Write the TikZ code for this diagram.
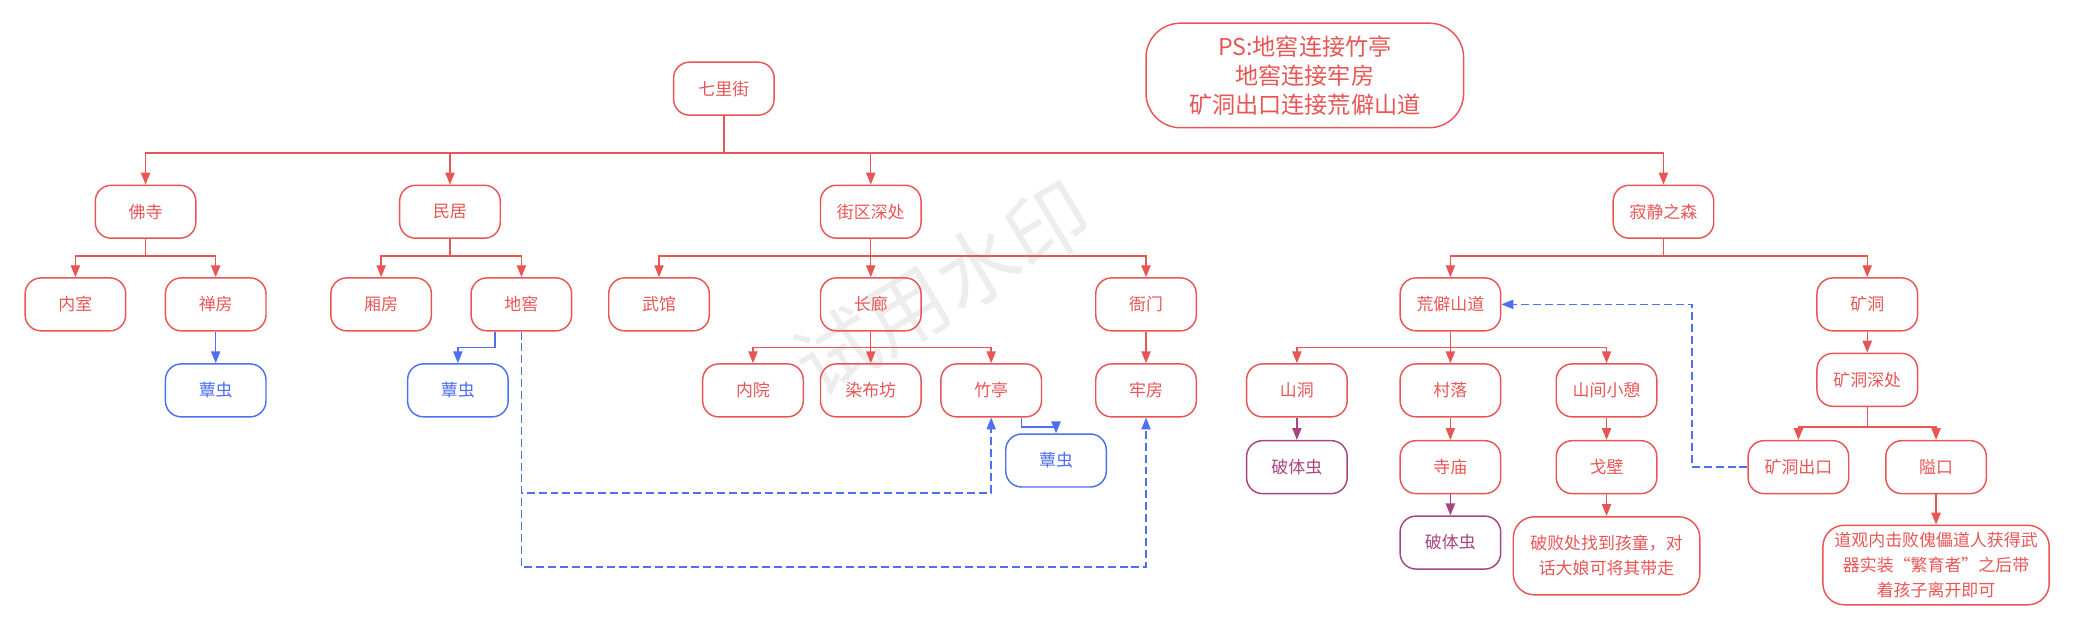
\documentclass[tikz,border=0pt]{standalone}
\usepackage{fontspec}
\setmainfont{Noto Sans CJK SC}
\usetikzlibrary{arrows.meta}
\definecolor{mapred}{HTML}{E85555}
\definecolor{mapblue}{HTML}{4D6FF0}
\definecolor{mappurple}{HTML}{A8447E}

\begin{document}
\begin{tikzpicture}[x=1pt, y=-1pt,
    place/.style={draw=mapred, text=mapred, rounded corners=12pt, line width=1.1pt,
                  minimum width=76pt, minimum height=40pt, inner sep=4pt, align=center,
                  font=\fontsize{12.8}{19}\selectfont},
    bug/.style={place, draw=mapblue, text=mapblue},
    worm/.style={place, draw=mappurple, text=mappurple},
    arr/.style={-{Triangle[width=7pt,length=9pt]}, line width=1.1pt, draw=mapred},
    barr/.style={arr, draw=mapblue},
    parr/.style={arr, draw=mappurple},
    link/.style={barr, dashed, dash pattern=on 6pt off 3pt}
]
\useasboundingbox (0,0) rectangle (1568,477);

% watermark
\node[rotate=31, text=black!7, font=\fontsize{62}{62}\selectfont] (wm) at (712,218) {试用水印};

% top
\node[place] (qilijie) at (547,67) {七里街};
\node[place, rounded corners=26pt, minimum width=240pt, minimum height=79pt,
      font=\fontsize{17.5}{22}\selectfont] (ps) at (986,57)
      {PS:地窖连接竹亭\\地窖连接牢房\\矿洞出口连接荒僻山道};

% level 1
\node[place] (fosi) at (110,160) {佛寺};
\node[place] (minju) at (340,160) {民居};
\node[place] (jiequ) at (658,160) {街区深处};
\node[place] (jijing) at (1257,160) {寂静之森};
\foreach \c in {fosi,minju,jiequ,jijing}
  \draw[arr] (qilijie.south) -- ++(0,28) -| (\c.north);

% level 2
\node[place] (neishi) at (57,230) {内室};
\node[place] (chanfang) at (163,230) {禅房};
\node[place] (xiangfang) at (288,230) {厢房};
\node[place] (dijiao) at (394,230) {地窖};
\node[place] (wuguan) at (498,230) {武馆};
\node[place] (changlang) at (658,230) {长廊};
\node[place] (yamen) at (866,230) {衙门};
\node[place] (huangpi) at (1096,230) {荒僻山道};
\node[place] (kuangdong) at (1411,230) {矿洞};
\foreach \a/\b in {fosi/neishi,fosi/chanfang,minju/xiangfang,minju/dijiao,
                   jiequ/wuguan,jiequ/changlang,jiequ/yamen,jijing/huangpi,jijing/kuangdong}
  \draw[arr] (\a.south) -- ++(0,13) -| (\b.north);

% level 3
\node[bug] (xunchong1) at (163,295) {蕈虫};
\node[bug] (xunchong2) at (346,295) {蕈虫};
\node[place] (neiyuan) at (569,295) {内院};
\node[place] (ranbu) at (658,295) {染布坊};
\node[place] (zhuting) at (749,295) {竹亭};
\node[place] (laofang) at (866,295) {牢房};
\node[bug] (xunchong3) at (798,348) {蕈虫};
\node[place] (shandong) at (980,295) {山洞};
\node[place] (cunluo) at (1096,295) {村落};
\node[place] (xiaoqi) at (1214,295) {山间小憩};
\node[place] (kdshen) at (1411,287) {矿洞深处};

\draw[barr] (chanfang) -- (xunchong1);
\draw[barr] ([xshift=-20pt]dijiao.south) -- ++(0,12) -| (xunchong2.north);
\foreach \b in {neiyuan,ranbu,zhuting}
  \draw[arr] (changlang.south) -- ++(0,12) -| (\b.north);
\draw[arr] (yamen) -- (laofang);
\draw[barr] ([xshift=23pt]zhuting.south) -- ++(0,7) -| (xunchong3.north);
\foreach \b in {shandong,cunluo,xiaoqi}
  \draw[arr] (huangpi.south) -- ++(0,12) -| (\b.north);
\draw[arr] (kuangdong) -- (kdshen);

% level 4
\node[worm] (poti1) at (980,353) {破体虫};
\node[place] (simiao) at (1096,353) {寺庙};
\node[worm] (poti2) at (1096,410) {破体虫};
\node[place] (gebi) at (1214,353) {戈壁};
\node[place, minimum width=141pt, minimum height=59pt, rounded corners=16pt] (gebinote) at (1214,420)
      {破败处找到孩童，对\\话大娘可将其带走};
\node[place] (kdchukou) at (1359,353) {矿洞出口};
\node[place] (aikou) at (1463,353) {隘口};
\node[place, minimum width=171pt, minimum height=60pt, rounded corners=16pt] (aikounote) at (1463,427)
      {道观内击败傀儡道人获得武\\器实装“繁育者”之后带\\着孩子离开即可};

\draw[parr] (shandong) -- (poti1);
\draw[arr] (cunluo) -- (simiao);
\draw[parr] (simiao) -- (poti2);
\draw[arr] (xiaoqi) -- (gebi);
\draw[arr] (gebi) -- (gebinote);
\foreach \b in {kdchukou,aikou}
  \draw[arr] (kdshen.south) -- ++(0,15) -| (\b.north);
\draw[arr] (aikou) -- (aikounote);

% dashed links
\draw[link] (dijiao.south) -- ++(0,122) -| (zhuting.south);
\draw[link] (dijiao.south) -- ++(0,178) -| (laofang.south);
\draw[link] (kdchukou.west) -- ++(-42,0) |- (huangpi.east);
\end{tikzpicture}
\end{document}
